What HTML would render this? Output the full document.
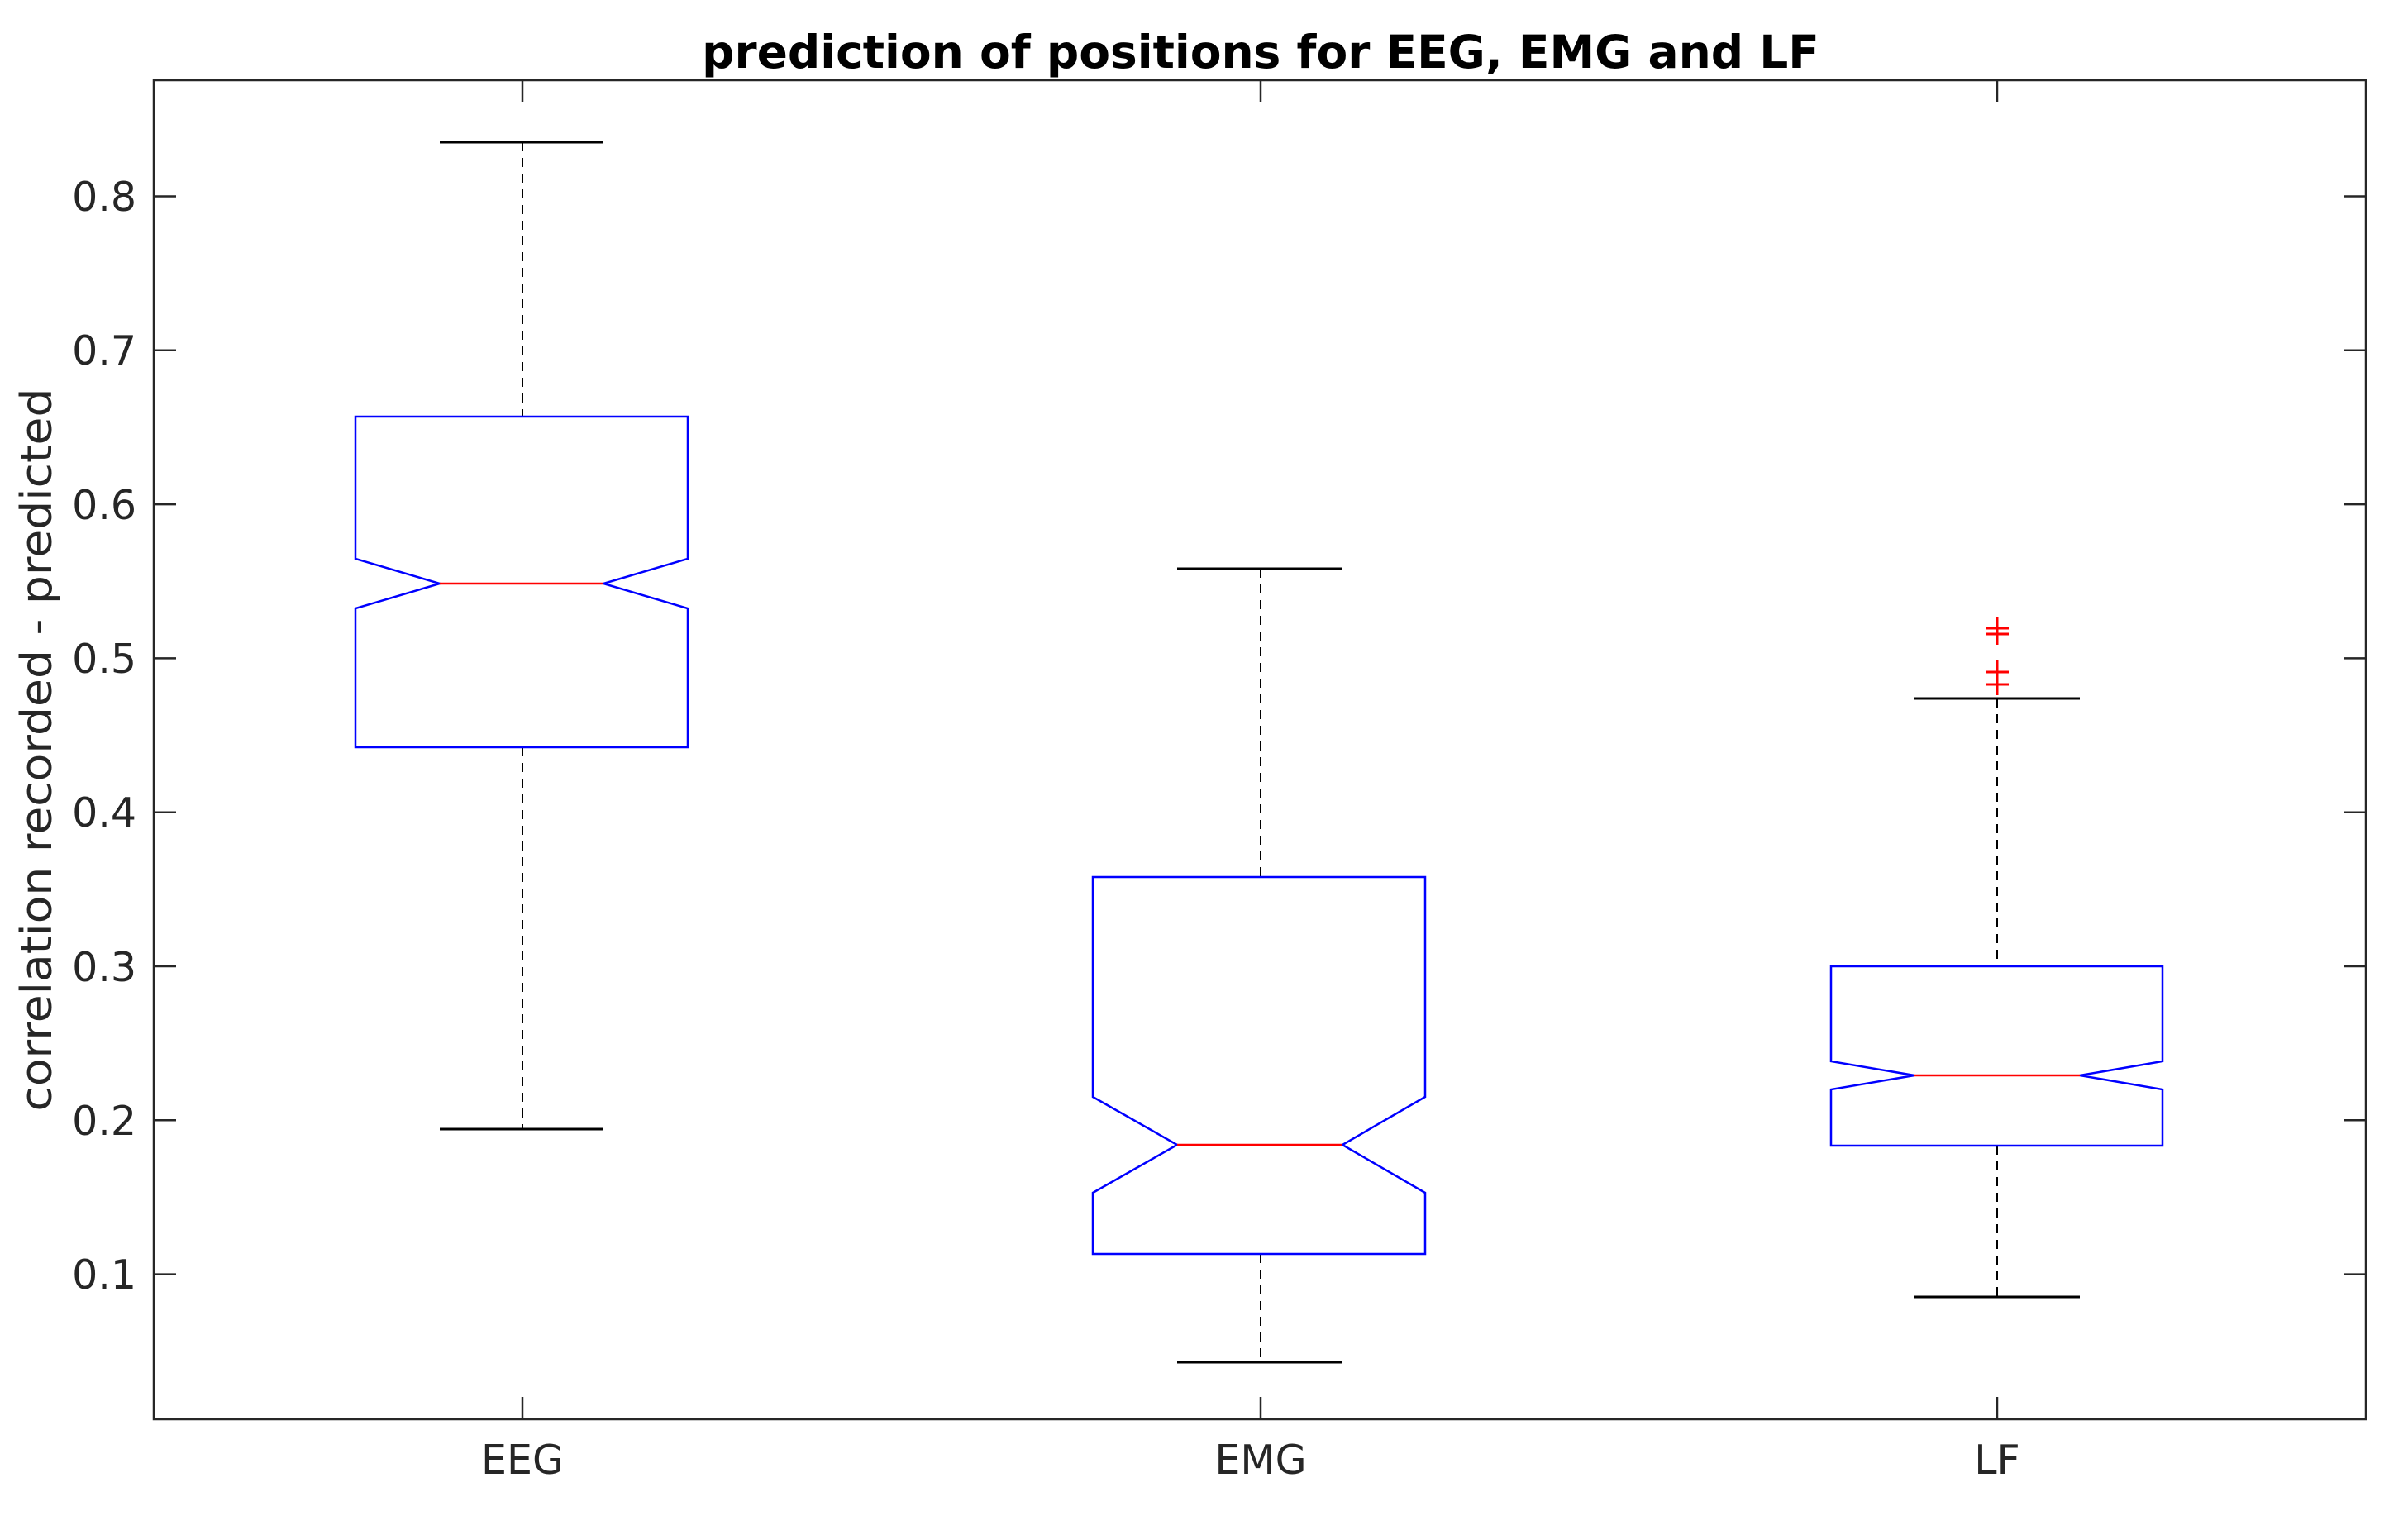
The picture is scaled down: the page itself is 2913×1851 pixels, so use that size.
<!DOCTYPE html>
<html><head><meta charset="utf-8"><style>html,body{margin:0;padding:0;background:#fff}svg{display:block}</style></head>
<body>
<svg width="2913" height="1851" viewBox="0 0 2913 1851" xmlns="http://www.w3.org/2000/svg" font-family="DejaVu Sans, Liberation Sans, sans-serif">
<rect width="2913" height="1851" fill="#fff"/>
<rect x="186" y="97" width="2676" height="1620" fill="none" stroke="#262626" stroke-width="2.5"/>
<g stroke="#262626" stroke-width="2.5">
<line x1="186" y1="237.5" x2="213" y2="237.5"/><line x1="2862" y1="237.5" x2="2835" y2="237.5"/>
<line x1="186" y1="423.8" x2="213" y2="423.8"/><line x1="2862" y1="423.8" x2="2835" y2="423.8"/>
<line x1="186" y1="610.1" x2="213" y2="610.1"/><line x1="2862" y1="610.1" x2="2835" y2="610.1"/>
<line x1="186" y1="796.4" x2="213" y2="796.4"/><line x1="2862" y1="796.4" x2="2835" y2="796.4"/>
<line x1="186" y1="982.7" x2="213" y2="982.7"/><line x1="2862" y1="982.7" x2="2835" y2="982.7"/>
<line x1="186" y1="1169" x2="213" y2="1169"/><line x1="2862" y1="1169" x2="2835" y2="1169"/>
<line x1="186" y1="1355.3" x2="213" y2="1355.3"/><line x1="2862" y1="1355.3" x2="2835" y2="1355.3"/>
<line x1="186" y1="1541.6" x2="213" y2="1541.6"/><line x1="2862" y1="1541.6" x2="2835" y2="1541.6"/>
<line x1="632" y1="1717" x2="632" y2="1690"/><line x1="632" y1="97" x2="632" y2="124"/>
<line x1="1525" y1="1717" x2="1525" y2="1690"/><line x1="1525" y1="97" x2="1525" y2="124"/>
<line x1="2416" y1="1717" x2="2416" y2="1690"/><line x1="2416" y1="97" x2="2416" y2="124"/>
</g>
<g font-size="49" fill="#262626" text-anchor="end">
<text x="165" y="255">0.8</text>
<text x="165" y="441">0.7</text>
<text x="165" y="628">0.6</text>
<text x="165" y="814">0.5</text>
<text x="165" y="1000">0.4</text>
<text x="165" y="1187">0.3</text>
<text x="165" y="1373">0.2</text>
<text x="165" y="1559">0.1</text>
</g>
<g font-size="49" fill="#262626" text-anchor="middle">
<text x="632" y="1783">EEG</text>
<text x="1525" y="1783">EMG</text>
<text x="2416" y="1783">LF</text>
</g>
<text transform="translate(62,907) rotate(-90)" font-size="52" fill="#262626" text-anchor="middle" textLength="875" lengthAdjust="spacingAndGlyphs">correlation recorded - predicted</text>
<text x="1525" y="82" font-size="55" font-weight="bold" fill="#000" text-anchor="middle" font-family="DejaVu Sans, sans-serif">prediction of positions for EEG, EMG and LF</text>

<g fill="none">
<line x1="632" y1="172" x2="632" y2="504" stroke="#000" stroke-width="2" stroke-dasharray="11,8"/>
<line x1="632" y1="904" x2="632" y2="1366" stroke="#000" stroke-width="2" stroke-dasharray="11,8"/>
<line x1="532" y1="172" x2="730" y2="172" stroke="#000" stroke-width="3"/>
<line x1="532" y1="1366" x2="730" y2="1366" stroke="#000" stroke-width="3"/>
<polygon points="430,504 832,504 832,676 730,706 832,736 832,904 430,904 430,736 532,706 430,676" stroke="#00f" stroke-width="2.5"/>
<line x1="532" y1="706" x2="730" y2="706" stroke="#f00" stroke-width="2.5"/>

<line x1="1525" y1="688" x2="1525" y2="1061" stroke="#000" stroke-width="2" stroke-dasharray="11,8"/>
<line x1="1525" y1="1517" x2="1525" y2="1648" stroke="#000" stroke-width="2" stroke-dasharray="11,8"/>
<line x1="1424" y1="688" x2="1624" y2="688" stroke="#000" stroke-width="3"/>
<line x1="1424" y1="1648" x2="1624" y2="1648" stroke="#000" stroke-width="3"/>
<polygon points="1322,1061 1724,1061 1724,1327 1624,1385 1724,1443 1724,1517 1322,1517 1322,1443 1424,1385 1322,1327" stroke="#00f" stroke-width="2.5"/>
<line x1="1424" y1="1385" x2="1624" y2="1385" stroke="#f00" stroke-width="2.5"/>

<line x1="2416" y1="845" x2="2416" y2="1169" stroke="#000" stroke-width="2" stroke-dasharray="11,8"/>
<line x1="2416" y1="1386" x2="2416" y2="1569" stroke="#000" stroke-width="2" stroke-dasharray="11,8"/>
<line x1="2316" y1="845" x2="2516" y2="845" stroke="#000" stroke-width="3"/>
<line x1="2316" y1="1569" x2="2516" y2="1569" stroke="#000" stroke-width="3"/>
<polygon points="2215,1169 2616,1169 2616,1284 2516,1301 2616,1318 2616,1386 2215,1386 2215,1318 2316,1301 2215,1284" stroke="#00f" stroke-width="2.5"/>
<line x1="2316" y1="1301" x2="2516" y2="1301" stroke="#f00" stroke-width="2.5"/>
<g stroke="#f00" stroke-width="3">
<line x1="2402" y1="760" x2="2430" y2="760"/><line x1="2416" y1="747" x2="2416" y2="773"/>
<line x1="2402" y1="767" x2="2430" y2="767"/><line x1="2416" y1="754" x2="2416" y2="780"/>
<line x1="2402" y1="813" x2="2430" y2="813"/><line x1="2416" y1="799" x2="2416" y2="827"/>
<line x1="2402" y1="828" x2="2430" y2="828"/><line x1="2416" y1="815" x2="2416" y2="841"/>
</g>
</g>
</svg>
</body></html>
